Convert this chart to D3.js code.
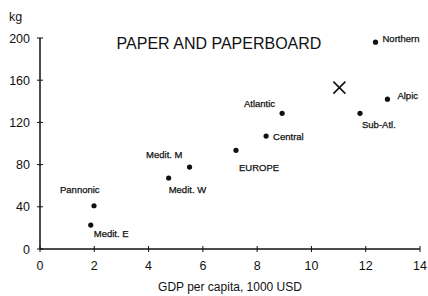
<!DOCTYPE html>
<html>
<head>
<meta charset="utf-8">
<script src="https://cdn.jsdelivr.net/npm/d3@7.9.0/dist/d3.min.js"></script>
<style>
  body { margin: 0; background: #fff; }
  svg { display: block; }
  .tick-label { font-family: "Liberation Sans", Arial, sans-serif; font-size: 12.5px; fill: #111; }
  .pt-label { font-family: "Liberation Sans Narrow", "Liberation Sans", Arial, sans-serif; font-size: 9.5px; fill: #111; stroke: #111; stroke-width: 0.25px; }
</style>
</head>
<body>
<svg id="chart" width="428" height="296"></svg>
<script>
// regions and their values
const regions = ['Northern', 'Alpic', 'Atlantic', 'Sub-Atl.', 'Central', 'EUROPE',
                 'Medit. M', 'Medit. W', 'Pannonic', 'Medit. E'];
const gdp = [12.36, 12.8, 8.92, 11.79, 8.33, 7.22, 5.51, 4.74, 1.99, 1.87];
const kg  = [196, 142, 128.6, 128.6, 107, 93.5, 77.7, 67.3, 41, 22.7];

// the single "X" marker
const crossPoint = [11.03, 153];

const xTicks = [0, 2, 4, 6, 8, 10, 12, 14];
const yTicks = [0, 40, 80, 120, 160, 200];

// label placement relative to each dot
const labelPos = {
  'Northern': { dx: 7, dy: -4, anchor: 'start' },
  'Alpic':    { dx: 10, dy: -4, anchor: 'start' },
  'Atlantic': { dx: -7, dy: -10, anchor: 'end' },
  'Sub-Atl.': { dx: 2, dy: 11, anchor: 'start' },
  'Central':  { dx: 7, dy: 1, anchor: 'start' },
  'EUROPE':   { dx: 3, dy: 17, anchor: 'start' },
  'Medit. M': { dx: -7, dy: -12, anchor: 'end' },
  'Medit. W': { dx: 0, dy: 12, anchor: 'start' },
  'Pannonic': { dx: -34, dy: -16, anchor: 'start' },
  'Medit. E': { dx: 3, dy: 9, anchor: 'start' }
};

const svg = d3.select('#chart');

const x = d3.scaleLinear().domain([0, 14]).range([40, 420]);
const y = d3.scaleLinear().domain([0, 200]).range([249, 38]);

// x axis
const xAxis = svg.append('g').attr('transform', `translate(0,${y(0)})`);
xAxis.append('line')
  .attr('x1', x(0)).attr('x2', x(14))
  .attr('stroke', '#111').attr('stroke-width', 1.5);
xAxis.selectAll('.xt')
  .data(xTicks)
  .enter()
  .append('line')
    .attr('x1', d => x(d)).attr('x2', d => x(d))
    .attr('y1', -3).attr('y2', 3)
    .attr('stroke', '#111').attr('stroke-width', 1);
xAxis.selectAll('text')
  .data(xTicks)
  .enter()
  .append('text')
    .attr('class', 'tick-label')
    .attr('x', d => x(d))
    .attr('y', 21)
    .attr('text-anchor', 'middle')
    .text(d => d);

// y axis
const yAxis = svg.append('g').attr('transform', `translate(${x(0)},0)`);
yAxis.append('line')
  .attr('y1', y(0)).attr('y2', y(200))
  .attr('stroke', '#111').attr('stroke-width', 1.5);
yAxis.selectAll('.yt')
  .data(yTicks)
  .enter()
  .append('line')
    .attr('y1', d => y(d)).attr('y2', d => y(d))
    .attr('x1', -3).attr('x2', 3)
    .attr('stroke', '#111').attr('stroke-width', 1);
yAxis.selectAll('text')
  .data(yTicks)
  .enter()
  .append('text')
    .attr('class', 'tick-label')
    .attr('x', -10)
    .attr('y', d => y(d) + 4.5)
    .attr('text-anchor', 'end')
    .text(d => d);

svg.append('text')
  .attr('class', 'tick-label')
  .attr('x', 9).attr('y', 21)
  .text('kg');

// axis title
svg.append('text')
  .attr('class', 'tick-label')
  .attr('x', 230).attr('y', 291)
  .attr('text-anchor', 'middle')
  .style('font-size', '12px')
  .text('GDP per capita, 1000 USD');

// chart title
svg.append('text')
  .attr('x', 219).attr('y', 49)
  .attr('text-anchor', 'middle')
  .style('font-family', '"Liberation Sans", Arial, sans-serif')
  .style('font-size', '16px')
  .attr('fill', '#111')
  .text('PAPER AND PAPERBOARD');

const points = regions.map((r, i) => ({ name: r, gdp: gdp[i], kg: kg[i] }));

svg.selectAll('circle')
  .data(points)
  .enter()
  .append('circle')
    .attr('cx', d => x(d.gdp))
    .attr('cy', d => y(d.kg))
    .attr('r', 2.6)
    .attr('fill', '#111');

svg.selectAll('.pt-label')
  .data(points)
  .enter()
  .append('text')
    .attr('class', 'pt-label')
    .attr('x', d => x(d.gdp) + labelPos[d.name].dx)
    .attr('y', d => y(d.kg) + labelPos[d.name].dy)
    .attr('dy', '0.35em')
    .attr('text-anchor', d => labelPos[d.name].anchor)
    .text(d => d.name);

// X marker
const cx = x(crossPoint[0]), cy = y(crossPoint[1]), s = 6;
svg.append('path')
  .attr('d', `M${cx - s},${cy - s}L${cx + s},${cy + s}M${cx - s},${cy + s}L${cx + s},${cy - s}`)
  .attr('stroke', '#111')
  .attr('stroke-width', 1.6)
  .attr('fill', 'none');
</script>
</body>
</html>
